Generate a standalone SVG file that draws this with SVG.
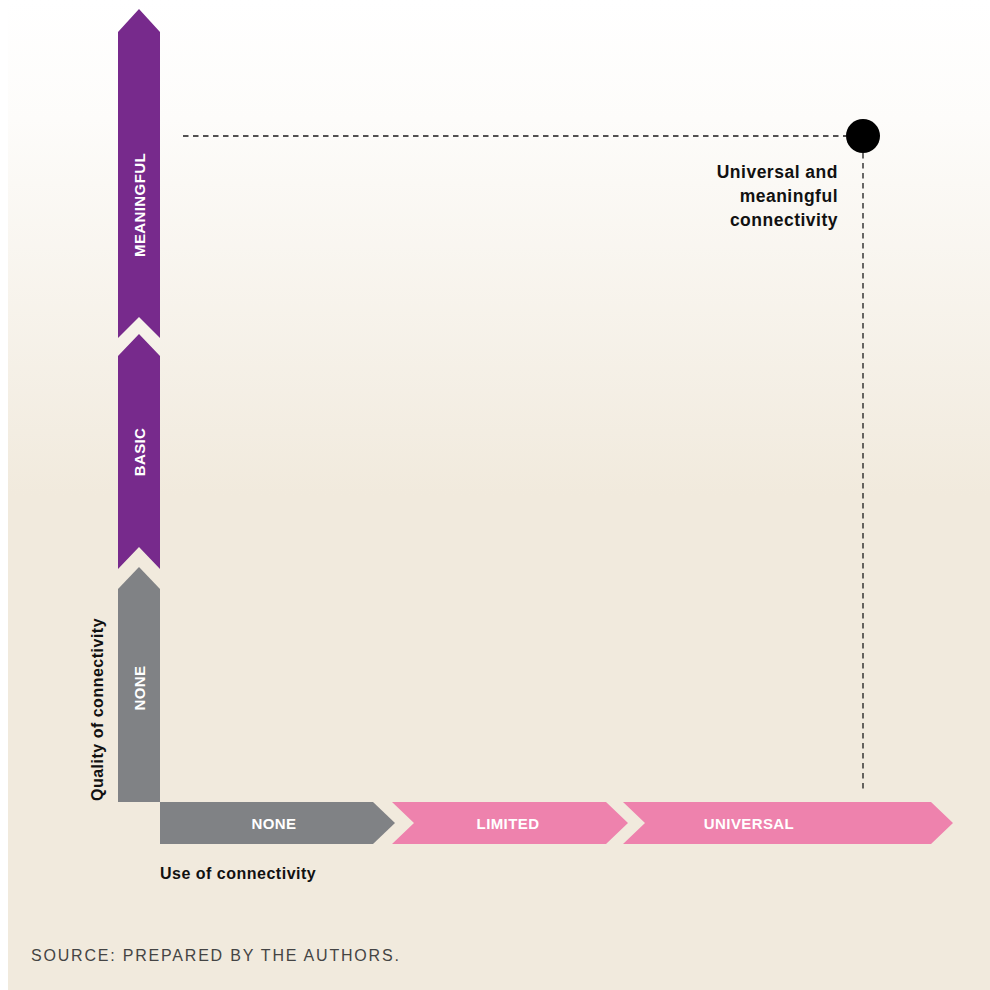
<svg xmlns="http://www.w3.org/2000/svg" width="990" height="990" viewBox="0 0 990 990">
<defs>
<linearGradient id="bg" x1="0" y1="0" x2="0" y2="1">
<stop offset="0" stop-color="#ffffff"/>
<stop offset="0.12" stop-color="#fdfcfa"/>
<stop offset="0.5" stop-color="#f1eadd"/>
<stop offset="1" stop-color="#f1eadd"/>
</linearGradient>
<style>
.purple{fill:#772a8c}
.gray{fill:#808285}
.pink{fill:#ee82ad}
.lbl{font-family:"Liberation Sans",Arial,sans-serif;font-weight:bold;font-size:15px;fill:#ffffff;text-anchor:middle;letter-spacing:0.4px}
.axis{font-family:"Liberation Sans",Arial,sans-serif;font-weight:bold;font-size:16px;fill:#111111;letter-spacing:0.5px}
.note{font-family:"Liberation Sans",Arial,sans-serif;font-weight:bold;font-size:17.5px;fill:#111111;text-anchor:end;letter-spacing:0.5px}
.src{font-family:"Liberation Sans",Arial,sans-serif;font-size:16px;fill:#444444;letter-spacing:1.8px}
.dash{fill:none;stroke:#1a1a1a;stroke-width:1.3;stroke-dasharray:5.5 4.5}
</style>
</defs>
<rect x="0" y="0" width="990" height="990" fill="#ffffff"/>
<rect x="8" y="0" width="982" height="990" fill="url(#bg)"/>

<g id="connectors">
<line class="dash" x1="183" y1="136" x2="846" y2="136"/>
<line class="dash" x1="863" y1="153" x2="863" y2="790"/>
</g>

<g id="q-meaningful">
<polygon class="purple" points="118,32 139,9 160,32 160,338 139,317 118,338"/>
<text class="lbl" transform="translate(144.5,205) rotate(-90)">MEANINGFUL</text>
</g>
<g id="q-basic">
<polygon class="purple" points="118,356 139,334 160,356 160,569 139,547 118,569"/>
<text class="lbl" transform="translate(144.5,452) rotate(-90)">BASIC</text>
</g>
<g id="q-none">
<polygon class="gray" points="118,589 139,567 160,589 160,802 118,802"/>
<text class="lbl" transform="translate(144.5,688) rotate(-90)">NONE</text>
</g>
<g id="u-none">
<polygon class="gray" points="160,802 373,802 395,823 373,844 160,844"/>
<text class="lbl" x="274" y="828.5">NONE</text>
</g>
<g id="u-limited">
<polygon class="pink" points="392,802 606,802 628,823 606,844 392,844 414,823"/>
<text class="lbl" x="508" y="828.5">LIMITED</text>
</g>
<g id="u-universal">
<polygon class="pink" points="623,802 931,802 953,823 931,844 623,844 645,823"/>
<text class="lbl" x="749" y="828.5">UNIVERSAL</text>
</g>

<g id="target">
<circle cx="863" cy="136" r="17" fill="#000000"/>
<text class="note" x="838" y="178">Universal and</text>
<text class="note" x="838" y="202">meaningful</text>
<text class="note" x="838" y="226">connectivity</text>
</g>

<g id="axis-labels">
<text class="axis" transform="translate(103,801) rotate(-90)">Quality of connectivity</text>
<text class="axis" x="160" y="879">Use of connectivity</text>
</g>

<text class="src" x="31" y="961">SOURCE: PREPARED BY THE AUTHORS.</text>
</svg>
